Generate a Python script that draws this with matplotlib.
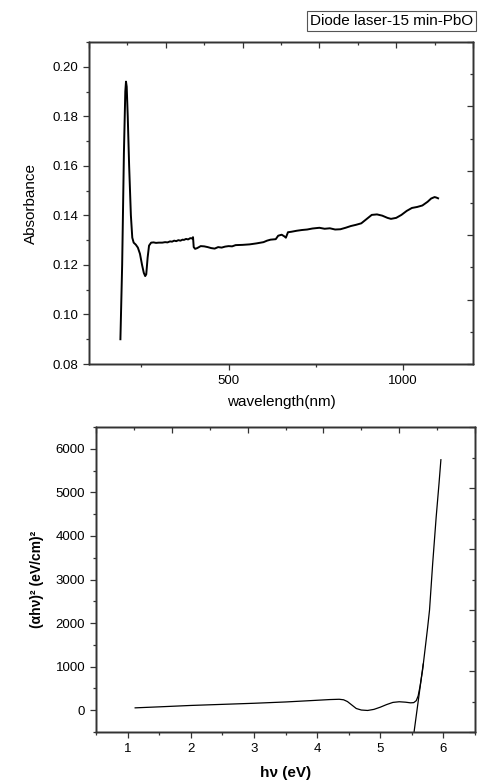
import matplotlib
matplotlib.use("Agg")
from matplotlib import pyplot as plt
from matplotlib.ticker import MultipleLocator, NullFormatter

plt.rcParams['font.family'] = ['Liberation Sans', 'DejaVu Sans']

# UV-Vis absorbance spectrum
wavelength = [190, 195, 200, 204, 206, 208, 211, 215, 220, 224, 228, 234, 240, 246,
              252, 257, 261, 264, 268, 272, 278, 285, 292, 300, 310, 318, 325, 332,
              338, 344, 350, 356, 362, 368, 372, 378, 384, 390, 395, 398, 400, 404,
              410, 420, 430, 440, 450, 460, 470, 480, 490, 500, 510, 520, 540, 560,
              580, 600, 610, 620, 635, 642, 652, 660, 664, 670, 680, 695, 710, 725,
              740, 760, 775, 790, 805, 820, 835, 850, 865, 880, 895, 910, 925, 940,
              955, 965, 980, 995, 1010, 1025, 1040, 1055, 1070, 1080, 1090, 1095, 1100]
absorbance = [0.090, 0.120, 0.165, 0.190, 0.194, 0.192, 0.180, 0.160, 0.140, 0.131,
              0.1290, 0.1282, 0.1270, 0.1245, 0.1200, 0.1168, 0.1155, 0.1162, 0.1230,
              0.1278, 0.1290, 0.1291, 0.1289, 0.1290, 0.1290, 0.1292, 0.1291, 0.1295,
              0.1294, 0.1298, 0.1296, 0.1300, 0.1298, 0.1302, 0.1301, 0.1305, 0.1303,
              0.1308, 0.1307, 0.1312, 0.1272, 0.1265, 0.1268, 0.1276, 0.1275, 0.1272,
              0.1268, 0.1266, 0.1272, 0.1270, 0.1274, 0.1276, 0.1275, 0.1280, 0.1281,
              0.1283, 0.1287, 0.1292, 0.1298, 0.1302, 0.1304, 0.1318, 0.1322, 0.1315,
              0.1310, 0.1332, 0.1334, 0.1338, 0.1341, 0.1343, 0.1347, 0.1350, 0.1346,
              0.1348, 0.1343, 0.1344, 0.1350, 0.1357, 0.1362, 0.1368, 0.1385, 0.1402,
              0.1404, 0.1399, 0.1390, 0.1386, 0.1390, 0.1402, 0.1418, 0.1430, 0.1434,
              0.1440, 0.1455, 0.1468, 0.1474, 0.1472, 0.1469]

# Tauc plot
hv = [1.12, 1.5, 2.0, 2.5, 3.0, 3.5, 3.95, 4.2, 4.35, 4.42, 4.48, 4.55, 4.62, 4.7,
      4.8, 4.9, 5.0, 5.1, 5.2, 5.3, 5.4, 5.48, 5.53, 5.57, 5.6, 5.63, 5.67, 5.72,
      5.75, 5.78, 5.83, 5.885, 5.93, 5.96]
ahv2 = [55, 78, 110, 135, 160, 190, 225, 245, 252, 240, 200, 120, 40, 5, -5, 20, 70,
        130, 180, 195, 185, 170, 175, 220, 330, 550, 920, 1530, 1900, 2300, 3370,
        4430, 5200, 5750]
fit_x = [5.535, 5.68]
fit_y = [-500, 1060]

fig = plt.figure(figsize=(4.8, 7.82), dpi=100)

spine_c = '#333333'


def style(ax):
    for s in ax.spines.values():
        s.set_color(spine_c)
        s.set_linewidth(1.0)
    ax.tick_params(which='major', direction='out', length=4.3, width=0.9, colors=spine_c,
                   labelcolor='black', labelsize=9.5)
    ax.tick_params(which='minor', direction='out', length=2.3, width=0.9, colors=spine_c)


def frame_ticks(ax):
    # top and right frame ticks (independent, no labels)
    tx = ax.twiny()
    tx.set_xlim(0, 1)
    tx.xaxis.set_major_locator(MultipleLocator(0.2))
    tx.xaxis.set_minor_locator(MultipleLocator(0.1))
    tx.xaxis.set_major_formatter(NullFormatter())
    tx.tick_params(which='major', direction='in', length=4.3, width=0.9, colors=spine_c)
    tx.tick_params(which='minor', direction='in', length=2.3, width=0.9, colors=spine_c)
    ty = ax.twinx()
    ty.set_ylim(0, 1)
    ty.yaxis.set_major_locator(MultipleLocator(0.2))
    ty.yaxis.set_minor_locator(MultipleLocator(0.1))
    ty.yaxis.set_major_formatter(NullFormatter())
    ty.tick_params(which='major', direction='in', length=4.3, width=0.9, colors=spine_c)
    ty.tick_params(which='minor', direction='in', length=2.3, width=0.9, colors=spine_c)
    for t in (tx, ty):
        for s in t.spines.values():
            s.set_color(spine_c)
            s.set_linewidth(1.0)


# top panel
ax1 = fig.add_axes([0.1854, 0.5345, 0.80, 0.4118])
ax1.plot(wavelength, absorbance, color='black', lw=1.4)
ax1.set_xlim(100, 1200)
ax1.set_ylim(0.08, 0.21)
ax1.xaxis.set_major_locator(MultipleLocator(500))
ax1.xaxis.set_minor_locator(MultipleLocator(250))
ax1.yaxis.set_major_locator(MultipleLocator(0.02))
ax1.yaxis.set_minor_locator(MultipleLocator(0.01))
ax1.yaxis.set_major_formatter(plt.FuncFormatter(lambda v, p: '%.2f' % v))
style(ax1)
ax1.set_xlabel('wavelength(nm)', fontsize=11, labelpad=6)
ax1.set_ylabel('Absorbance', fontsize=11, labelpad=10)
frame_ticks(ax1)

fig.text(0.985, 0.973, 'Diode laser-15 min-PbO', fontsize=11, ha='right', va='center',
         bbox=dict(boxstyle='square,pad=0.2', fc='white', ec='#555555', lw=0.8))

# bottom panel
ax2 = fig.add_axes([0.20, 0.0639, 0.7896, 0.390])
ax2.plot(hv, ahv2, color='black', lw=0.9)
ax2.plot(fit_x, fit_y, color='black', lw=0.9)
ax2.set_xlim(0.5, 6.5)
ax2.set_ylim(-500, 6500)
ax2.xaxis.set_major_locator(MultipleLocator(1))
ax2.xaxis.set_minor_locator(MultipleLocator(0.5))
ax2.yaxis.set_major_locator(MultipleLocator(1000))
ax2.yaxis.set_minor_locator(MultipleLocator(500))
style(ax2)
ax2.set_xlabel('hν (eV)', fontsize=11, fontweight='bold', labelpad=8)
ax2.set_ylabel('(αhν)² (eV/cm)²', fontsize=10, fontweight='bold', labelpad=8)
frame_ticks(ax2)

plt.savefig('out.png', dpi=100)
